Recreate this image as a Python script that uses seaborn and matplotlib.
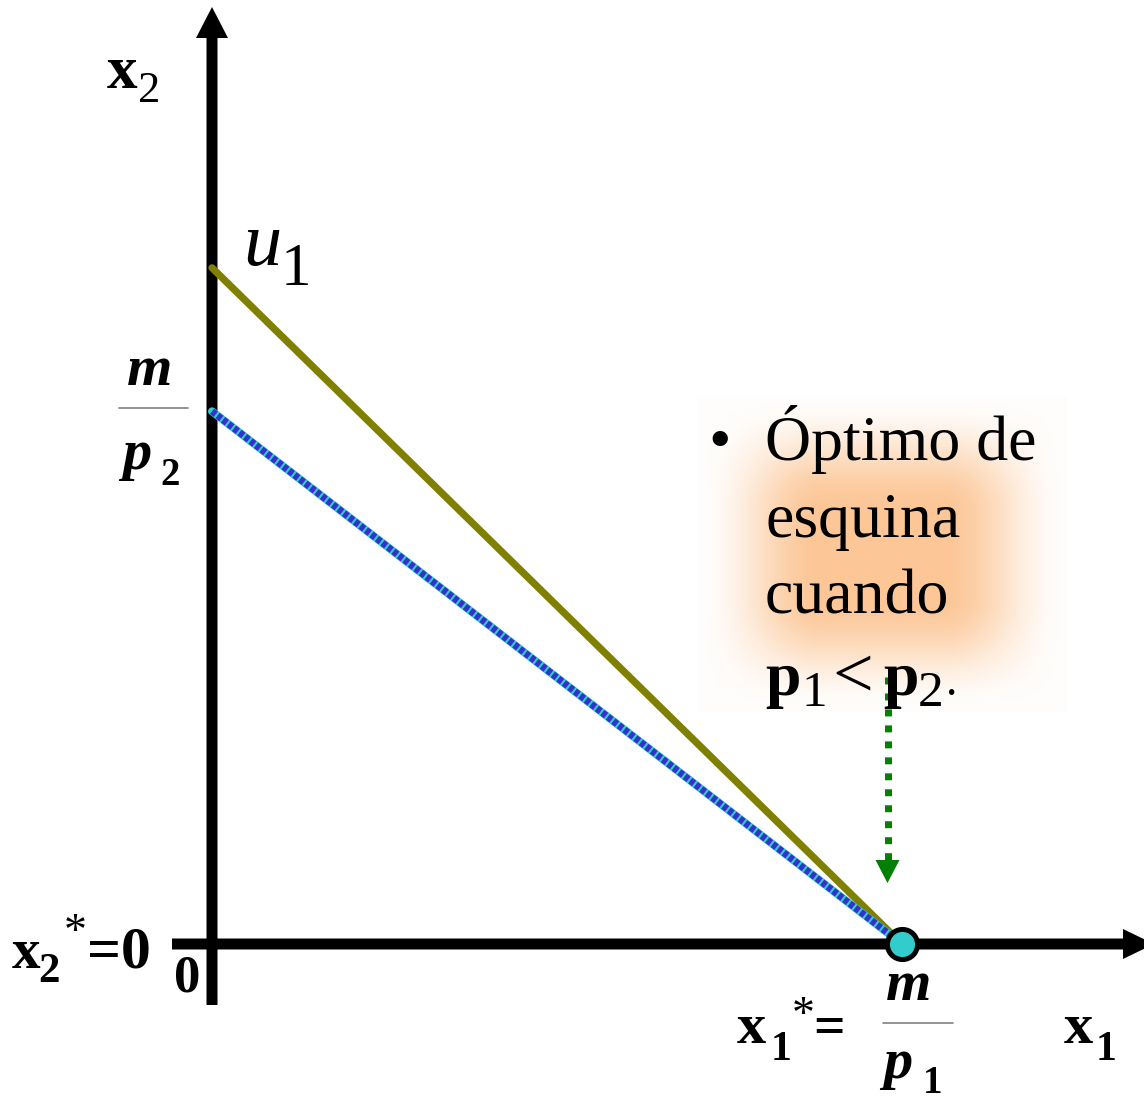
import numpy as np
import matplotlib
matplotlib.use("Agg")
import matplotlib.pyplot as plt
import seaborn as sns

# datos del diagrama (unidades del modelo)
m_p1 = 10.0          # intercepto en x1 = m/p1
m_p2 = 7.72          # intercepto en x2 = m/p2
u1_int = 9.80        # intercepto de la curva u1
budget_x = [0.0, m_p1]
budget_y = [m_p2, 0.0]
u1_x = [0.0, m_p1]
u1_y = [u1_int, 0.0]
opt_x = [m_p1]
opt_y = [0.0]

W, H = 1144, 1101
S = 69.0              # pixeles por unidad
OX, OY = 212, 944     # origen en pixeles

sns.set_theme(style="white")
plt.rcParams["font.family"] = ["Liberation Serif", "DejaVu Serif"]
plt.rcParams["text.color"] = "black"

fig = plt.figure(figsize=(W / 100, H / 100), dpi=100)
ax = fig.add_axes([0, 0, 1, 1])
ax.patch.set_visible(False)
ax.set_xlim(-OX / S, (W - OX) / S)
ax.set_ylim(-(H - OY) / S, OY / S)
ax.axis("off")


def px(x, y):
    return x / W, 1 - y / H


# brillo naranja detras del texto
gx0, gx1, gy0, gy1 = 697, 1067, 395, 712
def ramp(n, r):
    t = np.arange(n)
    d = np.minimum(t, n - 1 - t) / r
    d = np.clip(d, 0, 1)
    return d * d * (3 - 2 * d)
a = np.outer(ramp(gy1 - gy0, 115), ramp(gx1 - gx0, 125))
a = 0.025 + 0.975 * a
glow = np.zeros((gy1 - gy0, gx1 - gx0, 4))
glow[..., 0] = 252 / 255
glow[..., 1] = 198 / 255
glow[..., 2] = 150 / 255
glow[..., 3] = a
fig.figimage(glow, xo=gx0, yo=H - gy1, zorder=-1, origin="upper")

# ejes con flechas
ax.arrow(0, -(1005 - OY) / S, 0, (OY - 7) / S + (1005 - OY) / S, width=11 / S,
         head_width=32 / S, head_length=31 / S, length_includes_head=True,
         color="black", lw=0, zorder=3)
ax.arrow((172 - OX) / S, 0, (1154 - 172) / S, 0, width=11 / S,
         head_width=30 / S, head_length=31 / S, length_includes_head=True,
         color="black", lw=0, zorder=3)

# curva de indiferencia u1
sns.lineplot(x=u1_x, y=u1_y, ax=ax, color="#808000", lw=5.2, zorder=4)
# recta presupuestaria (patron azul/cian)
sns.lineplot(x=budget_x, y=budget_y, ax=ax, color="#33cccc", lw=5.8, zorder=4)
ax.plot(budget_x, budget_y, color="#3333cc", lw=5.0, zorder=4,
        linestyle=(0, (0.7, 0.3)), dash_capstyle="butt")

# punto optimo
sns.scatterplot(x=opt_x, y=opt_y, ax=ax, s=470, color="#33cccc",
                edgecolor="black", linewidth=3.6, zorder=6)

# flecha verde punteada
ax_x = (887.5 - OX) / S
ax.plot([ax_x, ax_x], [(OY - 677) / S, (OY - 860) / S], color="#008000",
        lw=5, linestyle=(0, (1, 1.3)), dash_capstyle="butt", zorder=5)
ax.arrow(ax_x, (OY - 860) / S, 0, -(883 - 860) / S, width=0.001,
         head_width=24 / S, head_length=23 / S, length_includes_head=True,
         color="#008000", lw=0, zorder=5)


def t(x, y, s, size, weight="normal", style="normal"):
    fig.text(*px(x, y), s, fontsize=size, fontweight=weight, fontstyle=style,
             ha="left", va="baseline", color="black")


# x2 arriba
t(107, 88, "x", 44, "bold")
t(138, 102, "2", 32)
# u1
t(243, 265, "u", 55, style="italic")
t(281, 285, "1", 44)
# m/p2
t(127, 385, "m", 42, "bold", "italic")
t(122, 469, "p", 42, "bold", "italic")
t(160, 485, "2", 28, "bold")
fig.add_artist(plt.Line2D([119 / W, 188 / W], [1 - 408 / H, 1 - 408 / H],
                          color="#808080", lw=1.2))
# x2* = 0
t(12, 968, "x", 41, "bold")
t(38, 982, "2", 31, "bold")
t(64, 945, "*", 33)
t(87, 968, "=0", 43, "bold")
t(174, 992, "0", 38, "bold")
# x1* = m/p1
t(737, 1043, "x", 42, "bold")
t(771, 1060, "1", 30, "bold")
t(792, 1028, "*", 33)
t(813, 1044, "=", 40, "bold")
t(886, 1000, "m", 42, "bold", "italic")
t(883, 1078, "p", 42, "bold", "italic")
t(923, 1093, "1", 28, "bold")
fig.add_artist(plt.Line2D([883 / W, 953 / W], [1 - 1023 / H, 1 - 1023 / H],
                          color="#808080", lw=1.2))
# x1 derecha
t(1064, 1043, "x", 42, "bold")
t(1096, 1060, "1", 30, "bold")

# texto con vineta
t(708, 460, "\u2022", 46)
t(765, 460, "Óptimo de", 46)
t(765, 537, "esquina", 46)
t(765, 613, "cuando", 46)
t(765, 695, "p", 46, "bold")
t(801, 706, "1", 37)
t(832, 697, "<", 52)
t(883, 695, "p", 46, "bold")
t(918, 706, "2", 37)
t(946, 695, ".", 33)

fig.savefig("out.png", dpi=100)
